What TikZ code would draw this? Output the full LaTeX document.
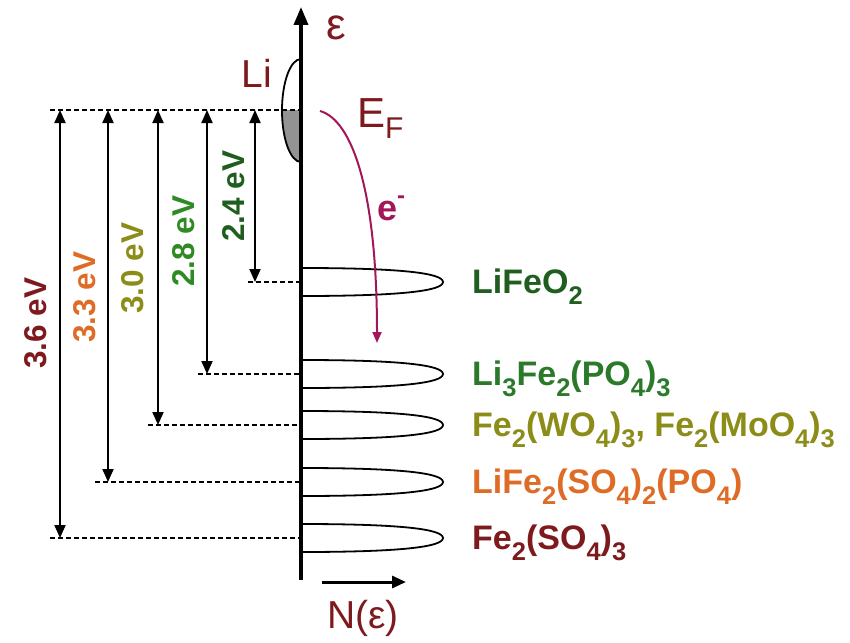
\documentclass[tikz,border=0pt]{standalone}
\usepackage{fontspec}
\setmainfont{Liberation Sans}
\usetikzlibrary{arrows.meta}
\definecolor{dred}{HTML}{7E1A1E}
\definecolor{crim}{HTML}{A3175A}
\definecolor{orng}{HTML}{DE6C26}
\definecolor{oliv}{HTML}{8C8C18}
\definecolor{grn}{HTML}{2F8A24}
\definecolor{dgrn}{HTML}{1F5E1F}
\definecolor{lgrn}{HTML}{2A7A2A}
\newcommand\sbx[1]{\raisebox{-0.34em}{\fontsize{25.5}{25}\selectfont #1}}
\tikzset{
  axisline/.style={line width=3.5pt,-{Triangle[length=18pt,width=14pt]}},
  levelline/.style={line width=1.8pt,dash pattern=on 5pt off 3pt},
  gaparrow/.style={line width=1.8pt,{Triangle[length=13pt,width=11pt]}-{Triangle[length=13pt,width=11pt]}},
  bump/.style={line width=1.8pt},
  elabel/.style={rotate=90,font=\fontsize{31.5}{36}\selectfont\bfseries,inner sep=0pt},
  formula/.style={anchor=base west,font=\fontsize{34}{40}\selectfont\bfseries,inner sep=0pt},
  redtext/.style={text=dred,inner sep=0pt},
}
\begin{document}
\begin{tikzpicture}[x=1pt,y=-1pt]
\useasboundingbox (0,0) rectangle (850,642);
% Li band
\begin{scope}
\clip (250,110.5) rectangle (301,170);
\fill[gray!85] (301,110.5) ellipse [x radius=19, y radius=51.5];
\end{scope}
\draw[bump] (301,162) arc[start angle=90,end angle=270,x radius=19,y radius=51.5];
% level coordinates
\coordinate (ax) at (301,110);
\coordinate (efs) at (50,110);
\foreach \n/\y/\xs in {a/282/248, b/374/198, c/425/148, d/482/95, e/538/50}{
  \coordinate (\n0) at (\xs,\y);
  \coordinate (\n1) at (301,\y);
  \coordinate (\n2) at (443,\y);
  \draw[levelline] (\n0) -- (\n1);
  \draw[bump] (301,\y-14) .. controls (400,\y-14) and (443,\y-9) .. (\n2)
              .. controls (443,\y+9) and (400,\y+14) .. (301,\y+14);
}
\draw[levelline] (efs) -- (ax);
% axis
\coordinate (axbot) at (301,580);
\coordinate (axtop) at (301,7);
\draw[axisline] (axbot) -- (axtop);
% gap arrows
\coordinate (ga1) at (255,110); \coordinate (ga2) at (255,282);
\coordinate (gb1) at (207,110); \coordinate (gb2) at (207,374);
\coordinate (gc1) at (158,110); \coordinate (gc2) at (158,425);
\coordinate (gd1) at (108,110); \coordinate (gd2) at (108,482);
\coordinate (ge1) at (60,110);  \coordinate (ge2) at (60,538);
\foreach \n in {a,b,c,d,e}{\draw[gaparrow] (g\n1) -- (g\n2);}
% gap labels
\node[elabel,text=dgrn] (l24) at (234,196) {2.4 eV};
\node[elabel,text=grn]  (l28) at (184,241) {2.8 eV};
\node[elabel,text=oliv] (l30) at (133,268) {3.0 eV};
\node[elabel,text=orng] (l33) at (85,297) {3.3 eV};
\node[elabel,text=dred] (l36) at (36,323) {3.6 eV};
% formulas
\node[formula,text=dgrn] (f1) at (472,293) {LiFeO\sbx{2}};
\node[formula,text=lgrn] (f2) at (472,385) {Li\sbx{3}Fe\sbx{2}(PO\sbx{4})\sbx{3}};
\node[formula,text=oliv] (f3) at (472,436) {Fe\sbx{2}(WO\sbx{4})\sbx{3}, Fe\sbx{2}(MoO\sbx{4})\sbx{3}};
\node[formula,text=orng] (f4) at (472,493) {LiFe\sbx{2}(SO\sbx{4})\sbx{2}(PO\sbx{4})};
\node[formula,text=dred] (f5) at (472,549) {Fe\sbx{2}(SO\sbx{4})\sbx{3}};
% other labels
\node[redtext,font=\fontsize{39}{44}\selectfont] (li) at (257,73) {Li};
\node[redtext,font=\fontsize{44}{48}\selectfont] (eps) at (336,28) {ε};
\node[redtext,anchor=base west,font=\fontsize{42}{46}\selectfont] (efl) at (357,127) {E\raisebox{-0.27em}{\fontsize{30}{30}\selectfont F}};
\node[anchor=base west,text=crim,inner sep=0pt,font=\fontsize{36}{40}\selectfont\bfseries] (elec) at (377,220) {e\raisebox{0.45em}{\fontsize{24}{24}\selectfont -}};
% electron arrow
\coordinate (es) at (320,111);
\coordinate (ee) at (377,343);
\draw[crim,line width=2pt,-{Triangle[length=11pt,width=9pt]}] (es) .. controls (352,120) and (377,190) .. (ee);
% N(eps) arrow
\coordinate (n1) at (322,582);
\coordinate (n2) at (406,582);
\draw[line width=3pt,-{Triangle[length=14pt,width=12pt]}] (n1) -- (n2);
\node[redtext,anchor=base,font=\fontsize{39}{44}\selectfont] (nl) at (363,628) {N(ε)};
\end{tikzpicture}
\end{document}
